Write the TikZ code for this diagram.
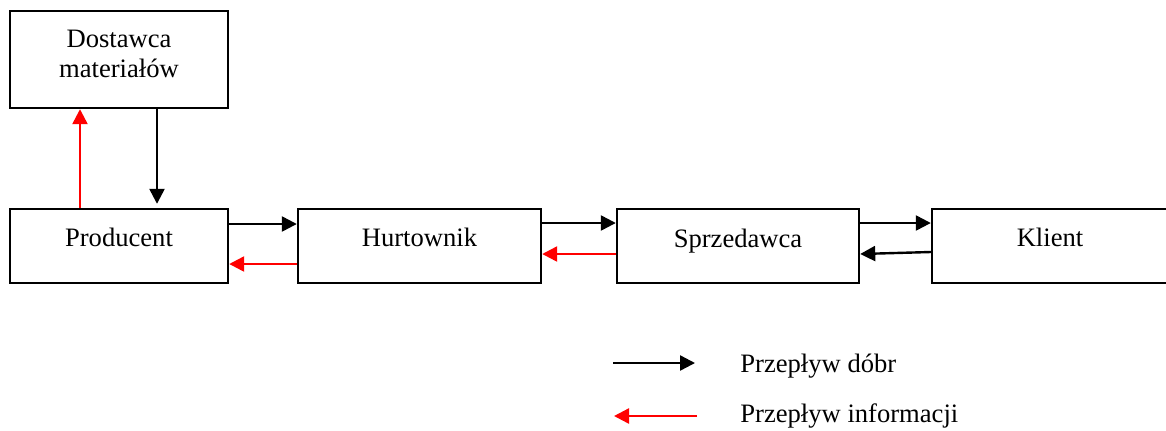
\documentclass[tikz,border=0pt]{standalone}
\usepackage{fontspec}
\setmainfont{Liberation Serif}
\usepackage{xcolor}
\usepackage{tikz}
\usetikzlibrary{arrows.meta,positioning,shapes}

\tikzset{
  box/.style={draw, line width=1.2pt, inner sep=0pt, align=center,
    text height=9pt, text depth=9pt},
  goods/.style={line width=1.2pt, -{Triangle[length=7.5pt,width=7.5pt]}},
  info/.style={goods, red}
}

\begin{document}
\begin{tikzpicture}[x=0.5pt, y=-0.5pt, font=\fontsize{13.3}{15}\selectfont]
\useasboundingbox (0, 0) rectangle (1166, 430);

\node[box, minimum width=109pt, minimum height=48.5pt, text height=21pt, text depth=3.5pt] (dost) at (119, 59.5) {Dostawca\\materiałów};
\node[box, minimum width=109pt, minimum height=37pt] (prod) at (119, 246) {Producent};
\node[box, minimum width=121.5pt, minimum height=37pt] (hurt) at (419.5, 246) {Hurtownik};
\node[box, minimum width=121pt, minimum height=37pt, text depth=8pt] (sprz) at (738, 246) {Sprzedawca};
\node[box, minimum width=118pt, minimum height=37pt] (kli) at (1050, 246) {Klient};

\draw[goods] ([xshift=19pt]dost.south) -- ([xshift=19pt, yshift=2pt]prod.north);
\draw[info] ([xshift=-19.5pt]prod.north) -- ([xshift=-19.5pt]dost.south);

\draw[goods] ([yshift=11pt]prod.east) -- ([yshift=11pt]hurt.west);
\draw[info] ([yshift=-9pt]hurt.west) -- ([yshift=-9pt]prod.east);
\draw[goods] ([yshift=11.5pt]hurt.east) -- ([yshift=11.5pt]sprz.west);
\draw[info] ([yshift=-4pt]sprz.west) -- ([yshift=-4pt]hurt.east);
\draw[goods] ([yshift=11.5pt]sprz.east) -- ([yshift=11.5pt]kli.west);
\draw[goods] ([yshift=-3pt]kli.west) -- ([yshift=-4pt]sprz.east);

% legenda
\coordinate (g1) at (613, 363);
\coordinate (g2) at (695, 363);
\coordinate (i1) at (697, 416);
\coordinate (i2) at (614, 416);
\draw[goods] (g1) -- (g2);
\draw[info] (i1) -- (i2);
\node[anchor=base west, inner sep=0pt] (lgoods) at (740, 372) {Przepływ dóbr};
\node[anchor=base west, inner sep=0pt] (linfo) at (740, 422) {Przepływ informacji};
\end{tikzpicture}
\end{document}
